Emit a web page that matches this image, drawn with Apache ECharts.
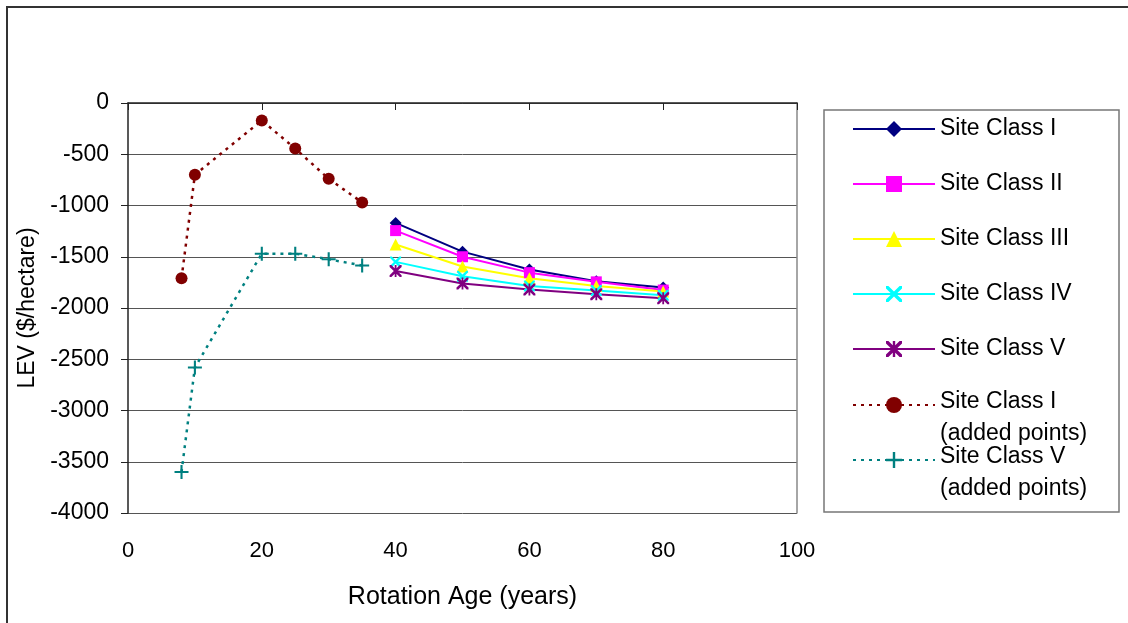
<!DOCTYPE html>
<html>
<head>
<meta charset="utf-8">
<script src="https://cdn.jsdelivr.net/npm/echarts@6/dist/echarts.min.js"></script>
<style>
  html, body { margin: 0; padding: 0; background: #fff; }
  #chart { width: 1128px; height: 623px; }
</style>
</head>
<body>
<div id="chart"></div>
<script>
// rotation ages (years) and LEV ($/hectare)
const ages = [40, 50, 60, 70, 80]
const siteI = [-1170, -1450, -1625, -1740, -1800]
const siteII = [-1245, -1500, -1655, -1745, -1825]
const siteIII = [-1380, -1595, -1710, -1785, -1840]
const siteIV = [-1550, -1690, -1785, -1830, -1875]
const siteV = [-1640, -1760, -1820, -1865, -1905]
const addedAges = [8, 10, 20, 25, 30, 35]
const addedI = [-1710, -700, -170, -445, -740, -970]
const addedV = [-3600, -2580, -1470, -1470, -1525, -1585]

const font = 'Liberation Sans, Arial, sans-serif'

// symbol shapes
const xMark = 'path://M0,0 L3,0 L10,7 L17,0 L20,0 L20,3 L13,10 L20,17 L20,20 L17,20 L10,13 L3,20 L0,20 L0,17 L7,10 L0,3 Z'
const starMark = xMark + ' M8.5,0 L11.5,0 L11.5,20 L8.5,20 Z'
const plusMark = 'path://M8.5,0 L11.5,0 L11.5,8.5 L20,8.5 L20,11.5 L11.5,11.5 L11.5,20 L8.5,20 L8.5,11.5 L0,11.5 L0,8.5 L8.5,8.5 Z'

function pairs (xs, ys) {
  return xs.map((x, i) => [x, ys[i]])
}

function solid (name, color, symbol, size, ys) {
  return {
    name: name,
    type: 'line',
    data: pairs(ages, ys),
    symbol: symbol,
    symbolSize: size,
    showAllSymbol: true,
    lineStyle: { color: color, width: 2 },
    itemStyle: { color: color },
    emphasis: { disabled: true }
  }
}

function dotted (name, color, symbol, size, ys) {
  return {
    name: name,
    type: 'line',
    data: pairs(addedAges, ys),
    symbol: symbol,
    symbolSize: size,
    lineStyle: { color: color, width: 2.5, type: [3, 5] },
    itemStyle: { color: color },
    emphasis: { disabled: true }
  }
}

const legendText = { fontFamily: font, fontSize: 23, color: '#000' }
// two-line legend labels, pushed down so the symbol sits by the first line
const twoLineText = {
  fontFamily: font,
  fontSize: 23,
  color: '#000',
  rich: {
    s: { fontSize: 10, lineHeight: 26 },
    a: { fontFamily: font, fontSize: 23, lineHeight: 32, color: '#000' }
  }
}

var chart = echarts.init(document.getElementById('chart'))
var option = {
  animation: false,
  backgroundColor: '#fff',
  grid: { left: 128, top: 103, right: 331, bottom: 110 },
  xAxis: {
    type: 'value',
    min: 0,
    max: 100,
    interval: 20,
    name: 'Rotation Age (years)',
    nameLocation: 'middle',
    nameGap: 72,
    nameTextStyle: { fontFamily: font, fontSize: 25, color: '#000' },
    axisLine: { lineStyle: { color: '#222', width: 1.5 } },
    axisTick: { show: true, length: 7, lineStyle: { color: '#222' } },
    axisLabel: { fontFamily: font, fontSize: 22, color: '#000', margin: 27 },
    splitLine: { show: false }
  },
  yAxis: [
    {
      type: 'value',
      min: -4000,
      max: 0,
      interval: 500,
      name: 'LEV ($/hectare)',
      nameLocation: 'middle',
      nameGap: 88,
      nameTextStyle: { fontFamily: font, fontSize: 23, color: '#000' },
      axisLine: { show: true, lineStyle: { color: '#222', width: 1.5 } },
      axisTick: { show: true, length: 7, lineStyle: { color: '#222' } },
      axisLabel: {
        fontFamily: font,
        fontSize: 23,
        color: '#000',
        margin: 19,
        formatter: function (v) { return String(v) }
      },
      splitLine: { show: true, lineStyle: { color: '#555', width: 1 } }
    },
    {
      type: 'value',
      min: -4000,
      max: 0,
      position: 'right',
      axisLine: { show: true, lineStyle: { color: '#888', width: 1.5 } },
      axisTick: { show: false },
      axisLabel: { show: false },
      splitLine: { show: false }
    }
  ],
  legend: [
    {
      data: ['Site Class I', 'Site Class II', 'Site Class III', 'Site Class IV', 'Site Class V'],
      orient: 'vertical',
      left: 852,
      top: 117,
      padding: 0,
      itemWidth: 82,
      itemHeight: 20,
      itemGap: 31,
      selectedMode: false,
      textStyle: Object.assign({ lineHeight: 24 }, legendText)
    },
    {
      data: ['Site Class I (added points)'],
      orient: 'vertical',
      left: 852,
      top: 368,
      padding: 0,
      itemWidth: 82,
      itemHeight: 20,
      selectedMode: false,
      formatter: function (n) { return '{s| }\n{a|Site Class I}\n{a|(added points)}' },
      textStyle: twoLineText
    },
    {
      data: ['Site Class V (added points)'],
      orient: 'vertical',
      left: 852,
      top: 423,
      padding: 0,
      itemWidth: 82,
      itemHeight: 20,
      selectedMode: false,
      formatter: function (n) { return '{s| }\n{a|Site Class V}\n{a|(added points)}' },
      textStyle: twoLineText
    }
  ],
  graphic: [
    {
      type: 'rect',
      shape: { x: 7, y: 7, width: 1300, height: 800 },
      style: { fill: 'none', stroke: '#333', lineWidth: 2 },
      silent: true
    },
    {
      type: 'rect',
      shape: { x: 824, y: 110, width: 295, height: 402 },
      style: { fill: 'none', stroke: '#777', lineWidth: 1.5 },
      silent: true
    }
  ],
  series: [
    solid('Site Class I', '#000080', 'diamond', 12, siteI),
    solid('Site Class II', '#FF00FF', 'rect', 11, siteII),
    solid('Site Class III', '#FFFF00', 'triangle', 12, siteIII),
    solid('Site Class IV', '#00FFFF', xMark, 11, siteIV),
    solid('Site Class V', '#800080', starMark, 12, siteV),
    dotted('Site Class I (added points)', '#800000', 'circle', 12, addedI),
    dotted('Site Class V (added points)', '#008080', plusMark, 14, addedV)
  ]
}

option && chart.setOption(option)
</script>
</body>
</html>
